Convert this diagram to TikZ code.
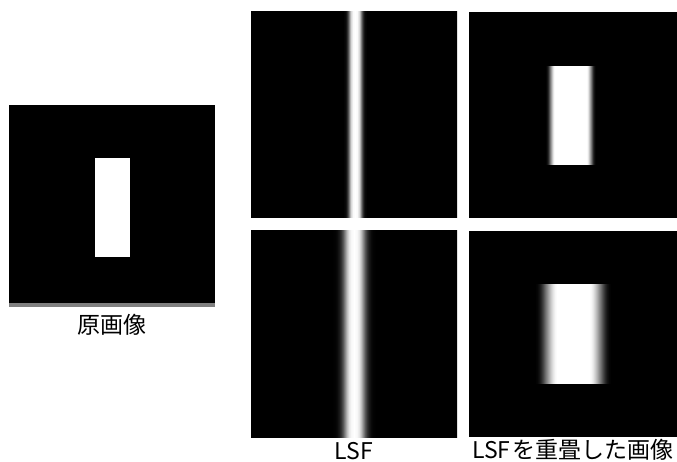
\documentclass[tikz,border=0pt]{standalone}
\usepackage{fontspec}
\newfontfamily\jp{Noto Sans CJK JP}
% narrow LSF across the whole 206px panel (panel = 25bp..75bp, line 1px right of centre)
\pgfdeclarehorizontalshading{lsfnarrow}{100bp}{gray(0bp)=(0); gray(47.330bp)=(0); gray(47.816bp)=(0.03); gray(48.058bp)=(0.08); gray(48.301bp)=(0.18); gray(48.544bp)=(0.32); gray(48.786bp)=(0.5); gray(49.029bp)=(0.7); gray(49.272bp)=(0.85); gray(49.757bp)=(0.98); gray(50.243bp)=(1); gray(50.728bp)=(0.98); gray(51.214bp)=(0.85); gray(51.456bp)=(0.7); gray(51.699bp)=(0.5); gray(51.942bp)=(0.32); gray(52.184bp)=(0.18); gray(52.427bp)=(0.08); gray(52.670bp)=(0.03); gray(53.155bp)=(0); gray(100bp)=(0)}
% wide LSF across the whole 206px panel
\pgfdeclarehorizontalshading{lsfwide}{100bp}{gray(0bp)=(0); gray(44.660bp)=(0); gray(45.388bp)=(0.01); gray(45.874bp)=(0.04); gray(46.359bp)=(0.1); gray(46.845bp)=(0.2); gray(47.330bp)=(0.35); gray(47.816bp)=(0.55); gray(48.301bp)=(0.75); gray(48.786bp)=(0.9); gray(49.272bp)=(0.97); gray(50bp)=(1); gray(50.728bp)=(0.97); gray(51.214bp)=(0.9); gray(51.699bp)=(0.75); gray(52.184bp)=(0.55); gray(52.670bp)=(0.35); gray(53.155bp)=(0.2); gray(53.641bp)=(0.1); gray(54.126bp)=(0.04); gray(54.612bp)=(0.01); gray(55.340bp)=(0); gray(100bp)=(0)}
% bar blurred by narrow LSF (1px = 0.5bp)
\pgfdeclarehorizontalshading{barnarrow}{100bp}{gray(0bp)=(0); gray(37.5bp)=(0); gray(38bp)=(0.04); gray(38.5bp)=(0.1); gray(39bp)=(0.22); gray(39.5bp)=(0.4); gray(40bp)=(0.55); gray(40.5bp)=(0.7); gray(41bp)=(0.85); gray(41.5bp)=(0.95); gray(42bp)=(1); gray(58bp)=(1); gray(58.5bp)=(0.95); gray(59bp)=(0.85); gray(59.5bp)=(0.7); gray(60bp)=(0.55); gray(60.5bp)=(0.4); gray(61bp)=(0.22); gray(61.5bp)=(0.1); gray(62bp)=(0.04); gray(62.5bp)=(0); gray(100bp)=(0)}
% bar blurred by wide LSF
\pgfdeclarehorizontalshading{barwide}{100bp}{gray(0bp)=(0); gray(31bp)=(0); gray(32bp)=(0.02); gray(33bp)=(0.07); gray(34bp)=(0.16); gray(35bp)=(0.28); gray(36bp)=(0.42); gray(37bp)=(0.55); gray(38bp)=(0.68); gray(39bp)=(0.8); gray(40bp)=(0.9); gray(41bp)=(0.97); gray(42bp)=(1); gray(58bp)=(1); gray(59bp)=(0.97); gray(60bp)=(0.9); gray(61bp)=(0.8); gray(62bp)=(0.68); gray(63bp)=(0.55); gray(64bp)=(0.42); gray(65bp)=(0.28); gray(66bp)=(0.16); gray(67bp)=(0.07); gray(68bp)=(0.02); gray(69bp)=(0); gray(100bp)=(0)}
\definecolor{bargray}{HTML}{808080}
\begin{document}
\begin{tikzpicture}[x=1pt,y=-1pt,
  panel/.style={fill=black, draw=none, inner sep=0pt, outer sep=0pt, minimum width=#1},
  lsfpanel/.style={draw=none, inner sep=0pt, outer sep=0pt, minimum width=206pt, minimum height=206pt, shade, shading=#1},
  caption/.style={font=\jp\fontsize{23}{27}\selectfont, inner sep=0pt, anchor=center}]
\useasboundingbox (0,0) rectangle (677,462);
% panels
\node[panel=206pt, minimum height=202pt] (orig) at (112,206) {};
\node[lsfpanel=lsfnarrow] (lsfa) at (354,115) {};
\node[panel=208pt, minimum height=206pt] (resa) at (573,115) {};
\node[lsfpanel=lsfwide] (lsfb) at (354,334) {};
\node[panel=208pt, minimum height=206pt] (resb) at (573,334) {};
% grey strip under the original
\fill[bargray] (orig.south west) rectangle ([yshift=4pt]orig.south east);
% original bar
\fill[white] (95,158) rectangle (130,257);
% blurred bars
\shade[shading=barnarrow] (520.5,67) rectangle (620.5,165);
\shade[shading=barwide] (523,285) rectangle (623,383);
% captions
\node[caption] (c1) at (112,325) {原画像};
\node[caption] (c2) at (354,451) {LSF};
\node[caption] (c3) at (573,450) {LSF\hspace{2pt}を重畳した画像};
\end{tikzpicture}
\end{document}
